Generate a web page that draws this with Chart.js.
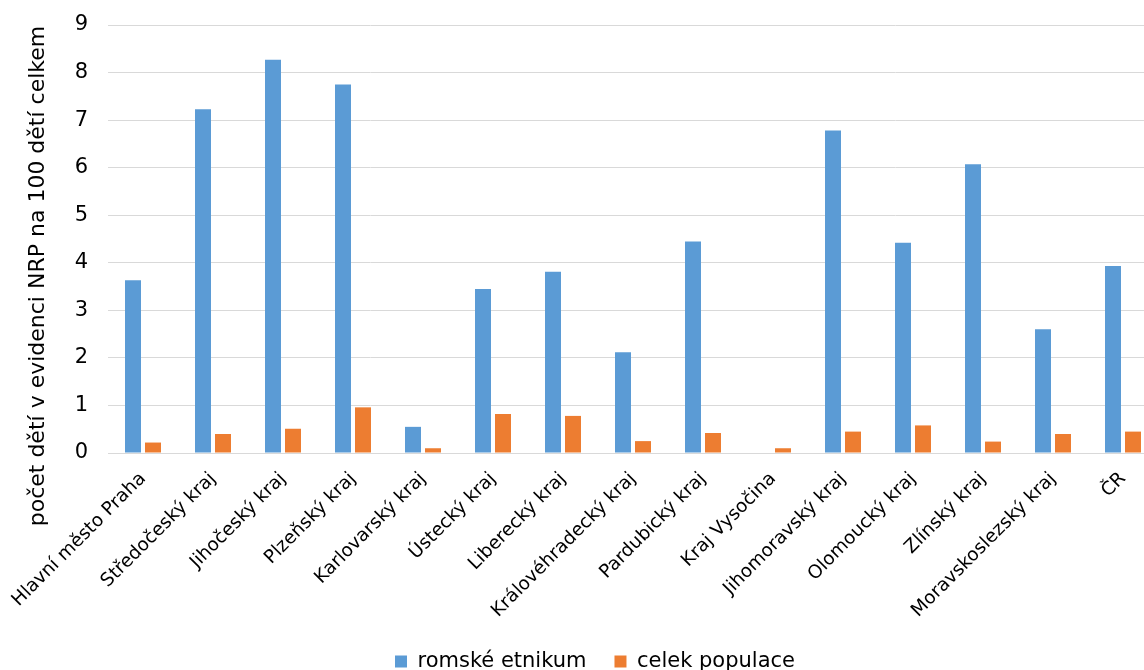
<!DOCTYPE html>
<html>
<head>
<meta charset="utf-8">
<script src="https://cdn.jsdelivr.net/npm/chart.js@4/dist/chart.umd.min.js"></script>
<style>
  html, body { margin: 0; padding: 0; background: #fff; overflow: hidden; }
  #wrap { position: relative; width: 1180px; height: 670px; }
</style>
</head>
<body>
<div id="wrap"><canvas id="c"></canvas></div>
<script>
const categories = [
  "Hlavní město Praha", "Středočeský kraj", "Jihočeský kraj", "Plzeňský kraj",
  "Karlovarský kraj", "Ústecký kraj", "Liberecký kraj", "Královéhradecký kraj",
  "Pardubický kraj", "Kraj Vysočina", "Jihomoravský kraj", "Olomoucký kraj",
  "Zlínský kraj", "Moravskoslezský kraj", "ČR"
];
const romskeEtnikum = [3.63, 7.23, 8.27, 7.75, 0.55, 3.45, 3.81, 2.12, 4.45, null, 6.78, 4.42, 6.07, 2.60, 3.93];
const celekPopulace = [0.22, 0.40, 0.51, 0.96, 0.10, 0.82, 0.78, 0.25, 0.42, 0.10, 0.45, 0.58, 0.24, 0.40, 0.45];
const seriesNames = ["romské etnikum", "celek populace"];
const yTitle = "počet dětí v evidenci NRP na 100 dětí celkem";
const yMin = 0, yMax = 9, yStep = 1;

const FONT = "'DejaVu Sans', Verdana, sans-serif";

const placement = {
  id: 'placement',
  afterLayout(chart) {
    const l = chart.legend;
    if (l) {
      const dx = 16;
      const h = l.bottom - l.top;
      l.left += dx; l.right += dx;
      l.top = 623; l.bottom = 623 + h;
    }
    const s = chart.scales.y;
    if (s && !s._titlePatched) {
      const orig = s.drawTitle;
      s.drawTitle = function () {
        const t = this.top, b = this.bottom;
        this.top += 37; this.bottom += 37;
        orig.apply(this, arguments);
        this.top = t; this.bottom = b;
      };
      s._titlePatched = true;
    }
  }
};

new Chart(document.getElementById('c'), {
  type: 'bar',
  data: {
    labels: categories,
    datasets: [
      { label: seriesNames[0], data: romskeEtnikum, backgroundColor: '#5B9BD5',
        barPercentage: 0.8, categoryPercentage: 0.5714 },
      { label: seriesNames[1], data: celekPopulace, backgroundColor: '#ED7D31',
        barPercentage: 0.8, categoryPercentage: 0.5714 }
    ]
  },
  plugins: [placement],
  options: {
    responsive: true,
    maintainAspectRatio: false,
    animation: false,
    layout: { padding: { top: 25, right: 22, left: 0, bottom: -22 } },
    plugins: {
      tooltip: { enabled: false },
      legend: {
        position: 'bottom',
        labels: {
          font: { family: FONT, size: 21 },
          color: '#000',
          boxWidth: 12,
          boxHeight: 12,
          padding: 28
        }
      }
    },
    scales: {
      x: {
        grid: { display: false, drawTicks: false },
        border: { display: true, color: '#D9D9D9', width: 1 },
        ticks: {
          font: { family: FONT, size: 18.5 },
          color: '#000',
          minRotation: 45,
          maxRotation: 45,
          autoSkip: false,
          padding: 15
        },
        afterFit(scale) { scale.height = 180; scale.paddingLeft = 0; scale.paddingRight = 0; }
      },
      y: {
        min: yMin, max: yMax,
        grid: { color: '#D9D9D9', lineWidth: 1, drawTicks: false },
        border: { display: false },
        ticks: {
          stepSize: yStep,
          font: { family: FONT, size: 21 },
          color: '#000',
          padding: 20
        },
        title: {
          display: true,
          text: yTitle,
          font: { family: FONT, size: 22 },
          color: '#000',
          padding: { top: 25, bottom: 0 }
        },
        afterFit(scale) { scale.width = 108; scale.paddingTop = 0; scale.paddingBottom = 0; }
      }
    }
  }
});
</script>
</body>
</html>
